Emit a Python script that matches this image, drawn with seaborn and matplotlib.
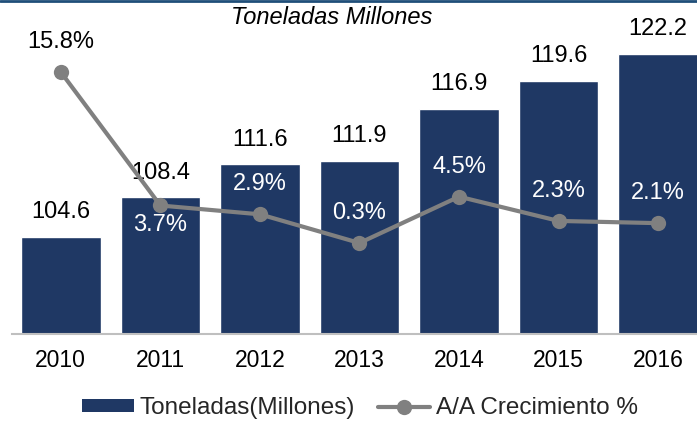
import numpy as np
import pandas as pd
import seaborn as sns
import matplotlib.pyplot as plt
from matplotlib.lines import Line2D
from matplotlib.patches import Patch

# data
years = ["2010", "2011", "2012", "2013", "2014", "2015", "2016"]
toneladas = [104.6, 108.4, 111.6, 111.9, 116.9, 119.6, 122.2]
crecimiento = [15.8, 3.7, 2.9, 0.3, 4.5, 2.3, 2.1]
# label offsets (points) for growth labels: above the point except 2011
growth_offsets = [21.6, -13.7, 21.6, 21.6, 21.6, 21.6, 21.6]
growth_colors = ["black", "white", "white", "white", "white", "white", "white"]

bar_color = "#1F3864"
line_color = "#808080"

sns.set_theme(style="white")
plt.rcParams["font.family"] = ["Liberation Sans", "DejaVu Sans"]

df = pd.DataFrame({"year": years, "ton": toneladas, "pct": crecimiento})

fig = plt.figure(figsize=(6.97, 4.23), dpi=100)
ax = fig.add_axes([12 / 697, 89 / 423, 1 - 12 / 697, 334 / 423])

sns.barplot(data=df, x="year", y="ton", color=bar_color, saturation=1,
            width=0.8, ax=ax, zorder=1)
ax.set_ylim(95.24, 127.35)
ax.set_xlim(-0.49, 6.39)
ax.set_xlabel("")
ax.set_ylabel("")
ax.set_yticks([])
for s in ["top", "right", "left"]:
    ax.spines[s].set_visible(False)
ax.spines["bottom"].set_color("#BFBFBF")
ax.spines["bottom"].set_linewidth(1.5)
ax.tick_params(axis="x", length=0, pad=11, labelsize=16.5, colors="black")

# bar value labels
for i, v in enumerate(toneladas):
    ax.annotate(f"{v:.1f}", (i, v), xytext=(0, 17.5), textcoords="offset points",
                ha="center", va="center", fontsize=17, color="black", zorder=2)

# growth line on secondary axis
ax2 = ax.twinx()
sns.lineplot(x=np.arange(len(years)), y=crecimiento, ax=ax2, color=line_color,
             linewidth=3, marker="o", markersize=11, markeredgewidth=0,
             zorder=5)
ax2.set_ylim(-7.95, 22.33)
ax2.set_xlim(-0.49, 6.39)
ax2.set_yticks([])
for s in ax2.spines.values():
    s.set_visible(False)

for i, v in enumerate(crecimiento):
    ax2.annotate(f"{v:.1f}%", (i, v), xytext=(0, growth_offsets[i]),
                 textcoords="offset points", ha="center", va="center",
                 fontsize=17, color=growth_colors[i], zorder=6)

# title
fig.text(332 / 697, 1 - 18 / 423, "Toneladas Millones", ha="center",
         va="center", fontsize=17, style="italic", color="black")

# top border line
fig.add_artist(Line2D([0, 1], [0.998, 0.998], transform=fig.transFigure,
                      color="#1F4E79", linewidth=2))

# legend
handles = [Patch(facecolor=bar_color, edgecolor="none"),
           Line2D([], [], color=line_color, linewidth=3, marker="o",
                  markersize=11, markeredgewidth=0)]
fig.legend(handles, ["Toneladas(Millones)", "A/A Crecimiento %"],
           loc="center", bbox_to_anchor=(360 / 697, 1 - 408 / 423), ncol=2,
           frameon=False, fontsize=17.5, handlelength=2.14, handleheight=0.42,
           handletextpad=0.25, columnspacing=0.95, borderpad=0)

fig.savefig("out.png", dpi=100)
